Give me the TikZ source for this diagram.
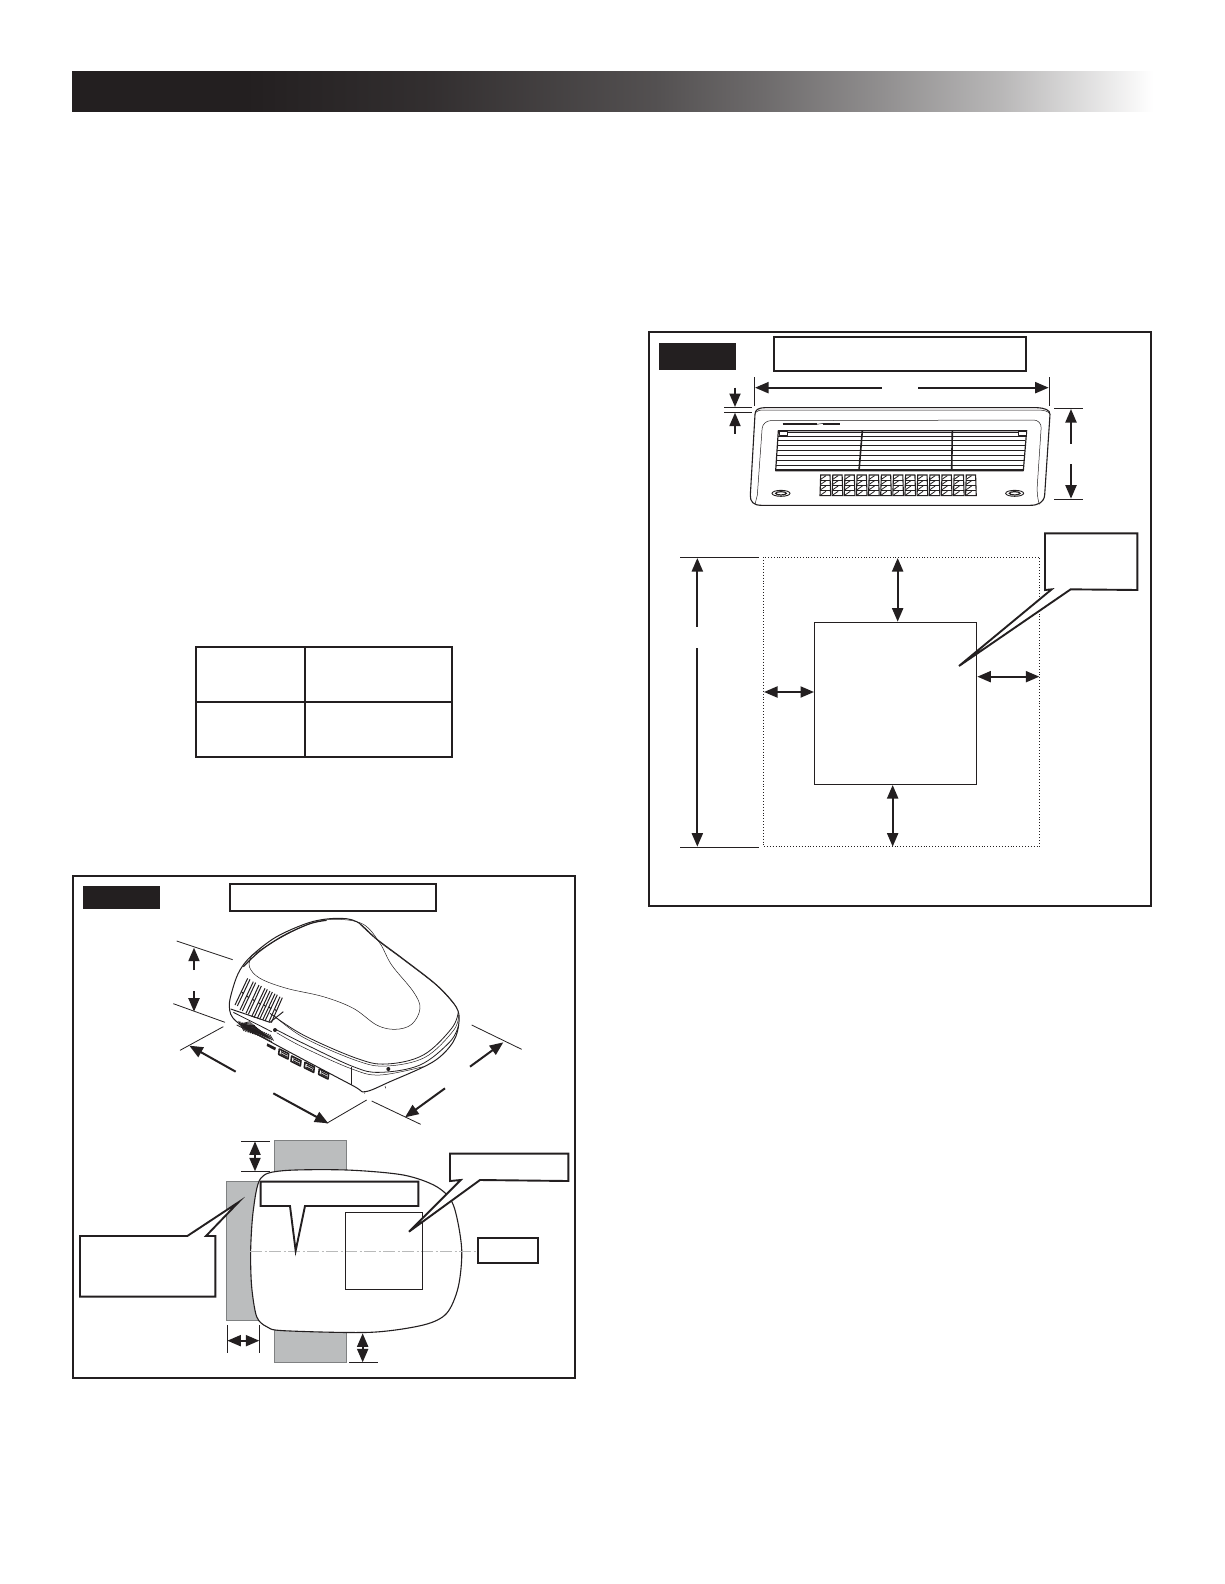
\documentclass[tikz,border=0pt]{standalone}
\usetikzlibrary{arrows.meta}
\definecolor{ink}{HTML}{231F20}
\definecolor{wallgray}{HTML}{BBBDBE}
\definecolor{wallline}{HTML}{7F8182}
\pgfdeclarehorizontalshading{hdrshade}{100bp}{color(0bp)=(ink); color(25bp)=(ink);
 color(33bp)=(ink); color(41.5bp)=(ink!93!white); color(52bp)=(ink!78!white); color(57bp)=(ink!66!white);
 color(62.5bp)=(ink!50!white); color(68bp)=(ink!32!white); color(72bp)=(ink!14!white); color(75bp)=(white); color(100bp)=(white)}
\tikzset{
 x=1pt,y=-1pt,
 frame/.style={draw=ink,line width=2pt,fill=white},
 tagbox/.style={fill=ink,draw=none},
 callout/.style={draw=ink,line width=1.9pt,fill=white,line join=miter},
 thinbox/.style={draw=ink,line width=1pt},
 tick/.style={draw=ink,line width=.8pt},
 dimline/.style={draw=ink,line width=2pt,-{Triangle[length=13.5pt,width=11pt]}},
 dimboth/.style={draw=ink,line width=2pt,{Triangle[length=13.5pt,width=11pt]}-{Triangle[length=13.5pt,width=11pt]}},
 wall/.style={fill=wallgray,draw=wallline,line width=.8pt},
 ol/.style={draw=ink,line width=.8pt,line join=round},
 fine/.style={draw=ink,line width=.5pt,line join=round}
}
\begin{document}
\begin{tikzpicture}
\useasboundingbox (0,0) rectangle (1224,1584);
\fill[white] (0,0) rectangle (1224,1584);
% header bar
\shade[shading=hdrshade] (72,72) rectangle (1153,112);
% table
\begin{scope}[shift={(180,630)},scale=1/3]
 \draw[draw=ink,line width=2pt] (47,50) rectangle (817,380) (375,50) -- (375,380) (47,215) -- (817,215);
\end{scope}
% ---------- left figure
\draw[frame] (72.7,875.5) rectangle (575,1378);
\begin{scope}[shift={(70,865)},scale=1/3]
 \fill[tagbox] (40,63) rectangle (270,132);
 \draw[callout] (480,56) rectangle (1099,138);
 % dome
 \draw[ol,fill=white,line width=1pt] plot[smooth cycle,tension=.55] coordinates {(478,425) (490,365) (510,315) (545,272) (620,215) (720,172) (800,160) (860,170) (920,222) (1000,282) (1100,360) (1158,425) (1167,470) (1150,530) (1090,590) (960,650) (885,680) (845,660) (610,535) (500,470)};
 \draw[ol,line width=1.2pt] plot[smooth,tension=.55] coordinates {(520,305) (570,258) (640,212) (720,176) (770,166)};
 \draw[fine] plot[smooth,tension=.6] coordinates {(545,272) (625,222) (720,176) (800,163) (880,178) (930,235) (965,300) (1030,380) (1050,430) (1025,478) (975,493) (920,480) (850,430) (760,395) (650,370) (570,340) (538,305) (545,272)};
 \draw[fine] plot[smooth,tension=.6] coordinates {(870,178) (925,228) (1005,288) (1105,366) (1162,430)};
 \draw[ol] plot[smooth,tension=.6] coordinates {(600,445) (700,510) (860,580) (950,597) (1060,570) (1145,490) (1165,440)};
 \draw[fine] plot[smooth,tension=.6] coordinates {(610,450) (700,517) (860,587) (950,603) (1065,577) (1150,497) (1166,450)};
 \draw[ol] plot[smooth,tension=.6] coordinates {(615,492) (700,535) (850,605) (930,622) (1050,600) (1140,530) (1166,480)};
 \draw[fine] plot[smooth,tension=.6] coordinates {(620,503) (700,547) (846,612) (930,630) (1060,605)};
 \draw[fine] (845,605) -- (845,660);
 \draw[fine] (885,680) -- (884,686) (945,663) -- (947,670);
 \fill[ink] (955,612) circle (6);
 \fill[ink] (615,495) circle (6);
 % louvres
 \foreach \a/\b/\c/\d in {533/340/495/420,550/350/510/435,567/360/528/445,585/370/545/455,600/378/562/460,615/386/578/465,630/395/597/470}{
  \draw[draw=ink,line width=1pt] (\a,\b) -- (\c,\d);
  \draw[draw=ink,line width=1pt] (\a+7,\b+3) -- (\c+7,\d+3);
  \draw[draw=ink,line width=1pt] ({(\a+\c)/2},{(\b+\d)/2}) -- ({(\a+\c)/2+7},{(\b+\d)/2+6});
 }
 \draw[ol,line width=1pt] (482,432) -- (600,472) -- (640,440);
 % lower grille
 \foreach \i in {0,1,...,17}{
  \draw[draw=ink,line width=.8pt] (506+\i*5.5,468+\i*2.4) -- (522+\i*5.2,498+\i*1.7);
  \draw[draw=ink,line width=.8pt] (506+\i*2,478+\i*1) -- (540+\i*3.6,470+\i*3);
 }
 \draw[ol] (490,442) -- (605,500) (500,480) -- (605,530);
 % connectors
 \fill[ink] (592,535) -- (618,548) -- (615,556) -- (590,543) -- cycle;
 \foreach \x/\y in {628/552,665/573,705/592,748/612}{
  \draw[draw=ink,line width=1.6pt,line join=round] (\x,\y) -- (\x+28,\y+14) -- (\x+26,\y+30) -- (\x-2,\y+16) -- cycle;
  \draw[draw=ink,line width=1.1pt] (\x+5,\y+8) -- (\x+24,\y+18) (\x+4,\y+14) -- (\x+23,\y+24);
 }
 % dimensions
 \draw[tick] (320,228) -- (488,284) (310,416) -- (465,472);
 \draw[dimline] (372,315) -- (372,248);
 \draw[dimline] (372,378) -- (372,440);
 \draw[tick] (460,485) -- (330,556);
 \draw[dimline] (497,620) -- (358,542);
 \draw[tick] (890,705) -- (770,775) (905,708) -- (1052,778);
 \draw[dimline] (610,685) -- (775,775);
 \draw[dimline] (1125,670) -- (1005,757);
 \draw[tick] (1205,480) -- (1355,553);
 \draw[dimline] (1200,605) -- (1300,532);
\end{scope}
\begin{scope}[shift={(70,1120)},scale=1/3]
 \draw[wall] (613,60) rectangle (828,160);
 \draw[wall] (613,630) rectangle (828,728);
 \draw[wall] (470,183) rectangle (575,602);
 \draw[draw=ink,line width=1.1pt,fill=white] plot[smooth cycle,tension=.5] coordinates {(640,152) (830,150) (1000,165) (1100,200) (1150,255) (1175,385) (1165,500) (1130,580) (1060,615) (900,637) (640,632) (590,620) (560,590) (545,500) (542,390) (550,270) (572,175)};
 \draw[draw=wallline!55!white,line width=.7pt,dash pattern=on 12pt off 2.5pt on 2pt off 2.5pt] (540,393) -- (1222,393);
 \draw[thinbox] (826,278) rectangle (1058,508);
 % callouts
 \draw[callout] (572,185) -- (1045,185) -- (1045,258) -- (705,258) -- (677,392) -- (660,258) -- (572,258) -- cycle;
 \draw[callout] (1140,101) -- (1495,101) -- (1495,183) -- (1230,180) -- (1017,335) -- (1172,180) -- (1140,183) -- cycle;
 \draw[callout] (30,348) -- (352,348) -- (505,247) -- (408,348) -- (436,348) -- (436,530) -- (30,530) -- cycle;
 \draw[callout] (1223,354) rectangle (1405,430);
 % dimensions
 \draw[tick] (514,64) -- (600,64) (514,154) -- (600,154);
 \draw[dimboth] (555,64) -- (555,154);
 \draw[tick] (472,615) -- (472,700) (568,615) -- (568,700);
 \draw[dimboth] (472,662) -- (568,662);
 \draw[tick] (838,727) -- (924,727);
 \draw[dimboth] (878,640) -- (878,727);
\end{scope}
% ---------- right figure
\draw[frame] (649,332) rectangle (1151,906);
\begin{scope}[shift={(640,325)},scale=1/3]
 \fill[tagbox] (57,55) rectangle (288,135);
 \draw[callout] (402,36) rectangle (1158,138);
 \draw[tick] (343,157) -- (343,243) (1228,157) -- (1228,243);
 \draw[dimline] (725,188) -- (345,188);
 \draw[dimline] (835,188) -- (1226,188);
 \draw[tick] (252,246) -- (335,246) (252,262) -- (335,262);
 \draw[dimline] (285,188) -- (285,246);
 \draw[dimline] (285,326) -- (285,263);
 \draw[tick] (1243,250) -- (1328,250) (1243,523) -- (1328,523);
 \draw[dimline] (1293,356) -- (1293,252);
 \draw[dimline] (1293,418) -- (1293,521);
 % unit
 \draw[ol,line width=1.1pt] (345,268) .. controls (346,255) and (352,249) .. (375,248) -- (1190,248) .. controls (1215,249) and (1230,255) .. (1230,268) -- (1214,510) .. controls (1212,532) and (1195,541) .. (1170,541) -- (365,541) .. controls (340,541) and (330,530) .. (331,510) -- cycle;
 \draw[fine] (347,262) .. controls (352,256) and (360,255) .. (375,255) -- (1190,255) .. controls (1210,255) and (1225,258) .. (1229,266);
 \draw[fine,rounded corners=8pt] (352,510) -- (368,287) -- (1205,285) -- (1190,510) -- (1198,538);
 \draw[fine] (352,510) -- (345,538);
 % outlet grille
 \draw[draw=ink,line width=1.2pt,line join=round] (415,317) -- (1160,317) -- (1150,437) -- (407,437) -- cycle;
 \draw[draw=ink,line width=1.8pt] (407,436) -- (1150,436);
 \foreach \y/\a/\b in {333/414/1157,347/413/1156,362/412/1155,377/411/1154,392/410/1153,407/409/1152,422/408/1151}
  \draw[draw=ink,line width=1pt] (\a,\y) -- (\b,\y);
 \draw[draw=ink,line width=.8pt] (442,322) -- (1135,322);
 \draw[draw=ink,line width=1.6pt] (667,317) -- (657,437) (937,317) -- (935,437);
 \draw[fine,fill=white] (417,318) rectangle (442,332);
 \draw[fine,fill=white] (1135,318) rectangle (1158,332);
 % logo strip
 \draw[draw=ink,line width=2pt] (428,298) -- (530,298) (550,298) -- (600,298);
 \draw[fine] (530,298) -- (550,295);
 % lower grille
 \foreach \i in {0,1,...,12}{
  \pgfmathsetmacro{\xa}{540+36.4*\i}
  \draw[draw=ink,line width=1.1pt] (\xa+2,450) -- (\xa+30,450) -- (\xa+32,512) -- (\xa,512) -- cycle;
  \foreach \yy in {465,481,497}
   \draw[draw=ink,line width=1pt] (\xa+1,\yy) -- (\xa+31,\yy);
  \foreach \yy in {450,465,481,497}
   \draw[draw=ink,line width=.8pt] (\xa+2,\yy+13) -- (\xa+18,\yy+2);
 }
 % buttons
 \foreach \xx in {423,1124}{
  \draw[draw=ink,line width=.9pt] (\xx,505) ellipse (27 and 9);
  \draw[draw=ink,line width=1.2pt] (\xx,505) ellipse (16 and 5);
 }
\end{scope}
\begin{scope}[shift={(650,520)},scale=1/3]
 \draw[draw=ink,line width=.9pt,dotted] (340,112) rectangle (1168,980);
 \draw[thinbox] (493,307) rectangle (980,793);
 \draw[tick] (90,112) -- (327,112) (90,982) -- (327,982);
 \draw[dimline] (142,320) -- (142,114);
 \draw[dimline] (142,385) -- (142,980);
 \draw[dimboth] (743,114) -- (743,305);
 \draw[dimboth] (728,795) -- (728,980);
 \draw[dimboth] (342,516) -- (492,516);
 \draw[dimboth] (982,470) -- (1168,470);
 \draw[callout] (1185,40) -- (1462,40) -- (1462,210) -- (1262,208) -- (927,438) -- (1205,208) -- (1185,210) -- cycle;
\end{scope}
\end{tikzpicture}
\end{document}
